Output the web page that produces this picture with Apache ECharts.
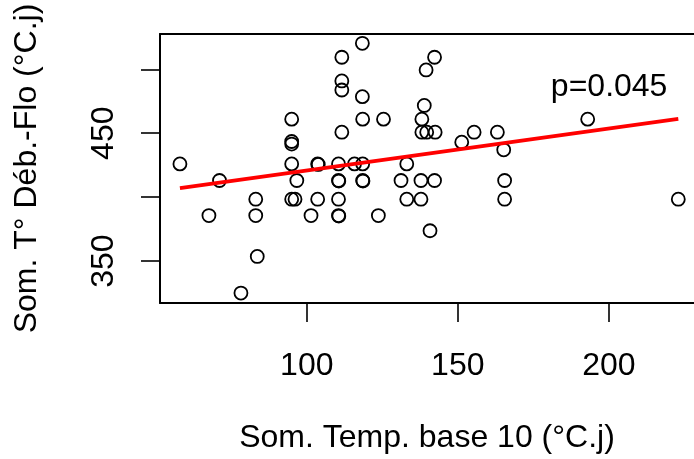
<!DOCTYPE html>
<html>
<head>
<meta charset="utf-8">
<script src="https://cdn.jsdelivr.net/npm/echarts@6/dist/echarts.min.js"></script>
<style>
  html, body { margin: 0; padding: 0; background: #fff; }
  #chart { width: 694px; height: 459px; }
</style>
</head>
<body>
<div id="chart"></div>
<script>
// Scatter data: Som. Temp. base 10 vs Som. T° Déb.-Flo
var sumTempX = [
  58.0, 71.1, 67.6, 83.1, 83.1, 83.6, 78.2,
  95.0, 96.7, 95.0, 96.1, 101.4, 103.6, 103.8, 103.6,
  110.5, 110.5, 110.6, 110.5, 110.5, 110.6,
  115.8, 118.5, 118.5, 118.6, 123.7,
  95.0, 95.0, 95.0, 111.6, 118.5, 125.4, 118.4, 118.4,
  111.6, 111.6, 111.6,
  133.1, 131.2, 137.8, 142.3, 133.1, 137.8,
  138.9, 138.1, 138.1, 139.7, 142.5,
  151.3, 155.4, 163.1, 165.2, 165.5, 165.5, 223.0,
  140.8, 142.3, 139.5, 193.0
];
var sumDebFlo = [
  426.0, 413.0, 385.6, 398.4, 385.6, 353.6, 325.0,
  426.0, 413.0, 398.4, 398.4, 385.6, 426.0, 425.6, 398.4,
  426.0, 413.0, 412.6, 398.4, 385.6, 385.2,
  426.0, 426.0, 413.0, 412.6, 385.6,
  461.0, 443.5, 441.5, 450.8, 461.0, 461.0, 478.6, 520.3,
  509.4, 490.9, 483.8,
  426.0, 413.0, 413.0, 413.0, 398.4, 398.4,
  471.7, 461.0, 450.8, 450.8, 450.8,
  443.0, 450.8, 450.8, 437.0, 413.0, 398.4, 398.4,
  373.7, 509.4, 499.5, 461.0
];
// Fitted regression segment (endpoints)
var fitX = [58.0, 223.0];
var fitY = [407.0, 461.2];
// Annotation
var pText = 'p=0.045';
var pPos = [200.1, 486];
// Axis ticks / labels
var xTicks = [100, 150, 200];
var yTicks = [350, 400, 450, 500];
var yTickLabels = [350, 450];
var xRange = [51.4, 228.2];   // visible part (the plot box runs past the right edge)
var yRange = [317.2, 527.6];
var xTitle = 'Som. Temp. base 10 (°C.j)';
var yTitle = 'Som. T° Déb.-Flo (°C.j)';

var pts = sumTempX.map(function (x, i) { return [x, sumDebFlo[i]]; });
var fit = fitX.map(function (x, i) { return [x, fitY[i]]; });

var FONT = 'Liberation Sans, Arial, sans-serif';
var BOX = { show: true, onZero: false, lineStyle: { color: '#000', width: 2 } };
var chart = echarts.init(document.getElementById('chart'), null, { renderer: 'canvas' });
chart.setOption({
  animation: false,
  backgroundColor: '#fff',
  grid: { left: 160, top: 34, right: 0, height: 269.3, show: false },
  xAxis: [{
    type: 'value', min: xRange[0], max: xRange[1], position: 'bottom',
    splitLine: { show: false },
    axisLine: BOX,
    axisTick: { show: true, customValues: xTicks, length: 19, inside: false,
      lineStyle: { color: '#000', width: 1.6 } },
    axisLabel: { customValues: xTicks, margin: 47, fontSize: 32, fontFamily: FONT, color: '#000' },
    name: xTitle, nameLocation: 'middle', nameGap: 119,
    nameTextStyle: { fontSize: 32, fontFamily: FONT, color: '#000' }
  }, {
    type: 'value', min: xRange[0], max: xRange[1], position: 'top',
    splitLine: { show: false }, axisLine: BOX,
    axisTick: { show: false }, axisLabel: { show: false }
  }],
  yAxis: {
    type: 'value', min: yRange[0], max: yRange[1],
    splitLine: { show: false },
    axisLine: BOX,
    axisTick: { show: true, customValues: yTicks, length: 19, inside: false,
      lineStyle: { color: '#000', width: 1.6 } },
    axisLabel: { customValues: yTickLabels, rotate: 90, margin: 40, fontSize: 32, fontFamily: FONT, color: '#000' },
    name: yTitle, nameLocation: 'middle', nameGap: 117, nameRotate: 90,
    nameTextStyle: { fontSize: 32, fontFamily: FONT, color: '#000' }
  },
  series: [
    {
      type: 'scatter', data: pts, symbol: 'circle', symbolSize: 13,
      itemStyle: { color: 'rgba(0,0,0,0)', borderColor: '#000', borderWidth: 1.8, opacity: 1 },
      z: 2, silent: true
    },
    {
      type: 'line', data: fit, symbol: 'none',
      lineStyle: { color: '#ff0000', width: 3.8 }, z: 3, silent: true
    },
    {
      type: 'scatter', data: [pPos], symbolSize: 0, z: 4, silent: true,
      itemStyle: { opacity: 1 },
      label: { show: true, position: 'inside', formatter: pText, fontSize: 32, fontFamily: FONT, color: '#000', opacity: 1 }
    }
  ]
});
</script>
</body>
</html>
